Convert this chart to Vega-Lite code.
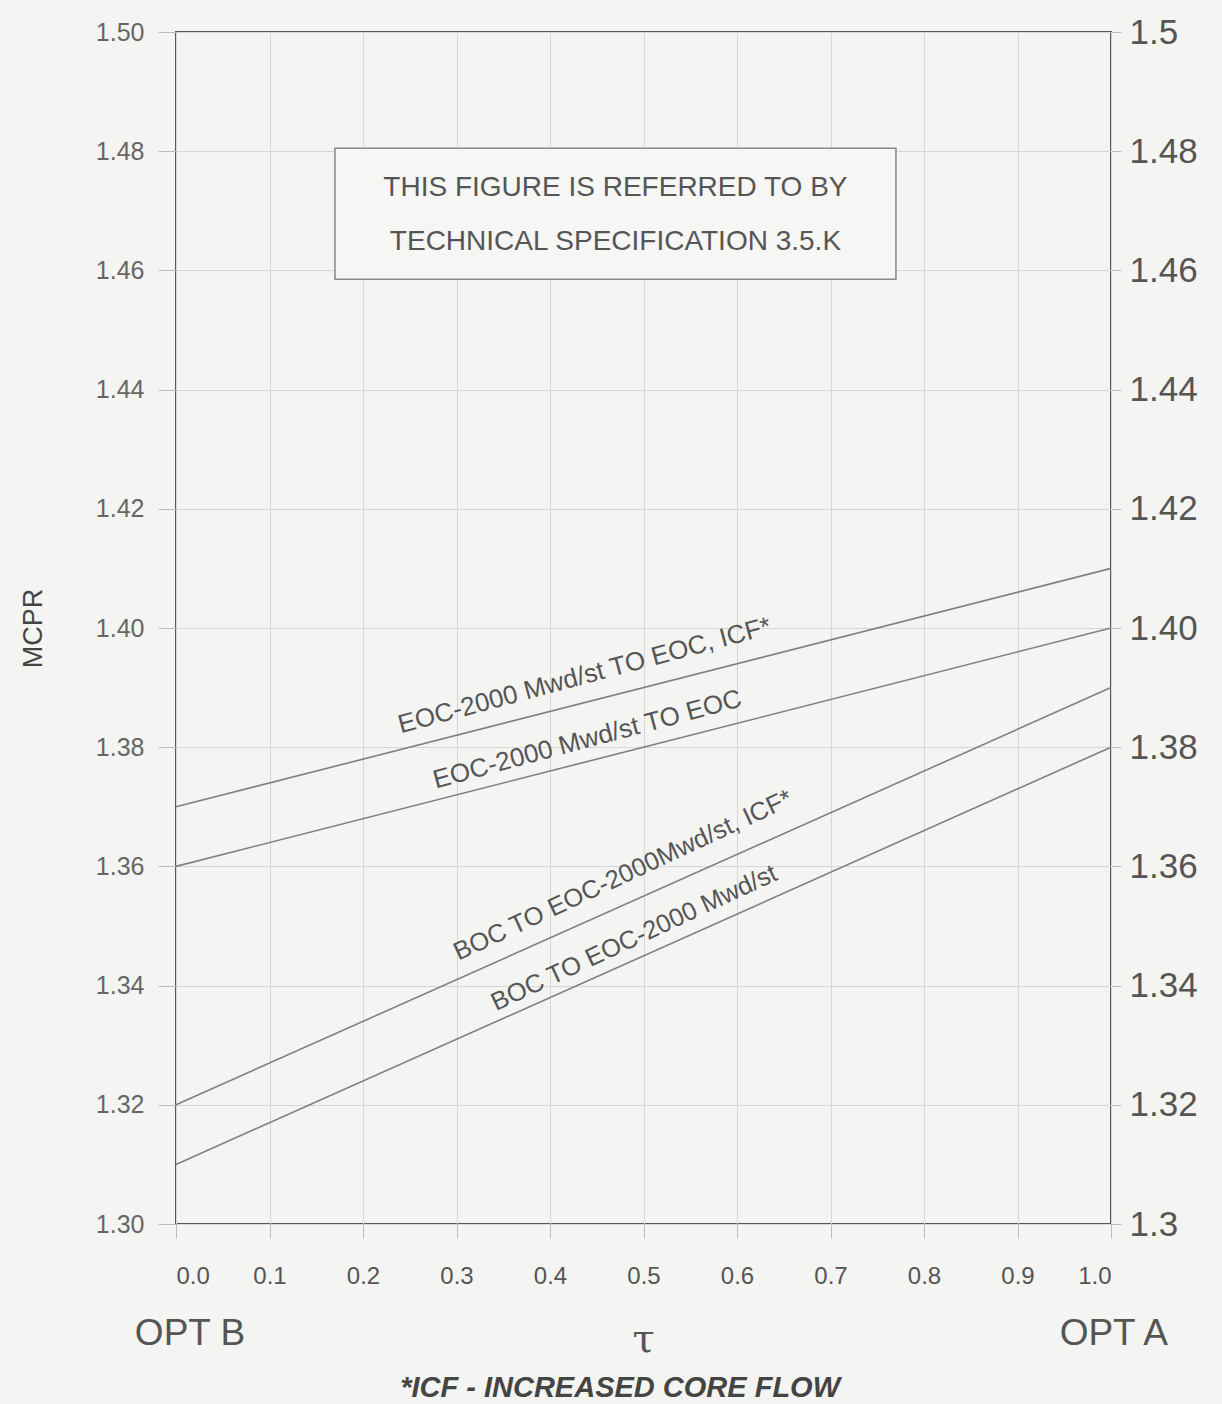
{
  "$schema": "https://vega.github.io/schema/vega-lite/v6.json",
  "width": 935,
  "height": 1192,
  "autosize": "none",
  "padding": {"left": 176, "top": 32, "right": 111, "bottom": 180},
  "background": "#f4f4f2",
  "config": {
    "view": {"stroke": "#555555", "strokeWidth": 2},
    "font": "Liberation Sans",
    "text": {"font": "Liberation Sans", "color": "#444444"}
  },
  "datasets": {
    "lines": [
      {"curve": "EOC ICF", "tau": 0.0, "mcpr": 1.37},
      {"curve": "EOC ICF", "tau": 1.0, "mcpr": 1.41},
      {"curve": "EOC", "tau": 0.0, "mcpr": 1.36},
      {"curve": "EOC", "tau": 1.0, "mcpr": 1.40},
      {"curve": "BOC ICF", "tau": 0.0, "mcpr": 1.32},
      {"curve": "BOC ICF", "tau": 1.0, "mcpr": 1.39},
      {"curve": "BOC", "tau": 0.0, "mcpr": 1.31},
      {"curve": "BOC", "tau": 1.0, "mcpr": 1.38}
    ],
    "shallow": [
      {"label": "EOC-2000 Mwd/st TO EOC, ICF*", "tau": 0.437, "mcpr": 1.392},
      {"label": "EOC-2000 Mwd/st TO EOC", "tau": 0.44, "mcpr": 1.3813}
    ],
    "steep": [
      {"label": "BOC TO EOC-2000Mwd/st, ICF*", "tau": 0.478, "mcpr": 1.3585},
      {"label": "BOC TO EOC-2000 Mwd/st", "tau": 0.49, "mcpr": 1.348}
    ],
    "box": [{"x1": 0.17, "x2": 0.77, "y1": 1.4585, "y2": 1.4805}],
    "boxtext": [
      {"label": "THIS FIGURE IS REFERRED TO BY", "tau": 0.47, "mcpr": 1.4738},
      {"label": "TECHNICAL SPECIFICATION 3.5.K", "tau": 0.47, "mcpr": 1.4648}
    ],
    "opt": [
      {"label": "OPT B", "tau": 0.015, "mcpr": 1.2815},
      {"label": "OPT A", "tau": 1.003, "mcpr": 1.2815}
    ],
    "tauLabel": [{"label": "τ", "tau": 0.5, "mcpr": 1.2805}],
    "foot": [{"label": "*ICF - INCREASED CORE FLOW", "tau": 0.475, "mcpr": 1.2725}]
  },
  "layer": [
    {
      "data": {"name": "lines"},
      "mark": {"type": "line", "color": "#808080", "strokeWidth": 1.6},
      "encoding": {
        "x": {
          "field": "tau", "type": "quantitative",
          "scale": {"domain": [0, 1], "nice": false},
          "axis": {
            "values": [0, 0.1, 0.2, 0.3, 0.4, 0.5, 0.6, 0.7, 0.8, 0.9, 1.0],
            "format": ".1f", "title": null,
            "labelFontSize": 24, "labelColor": "#555555", "labelPadding": 26,
            "tickSize": 14, "tickColor": "#bbbbbb",
            "domain": false,
            "grid": true, "gridColor": "#d6d6d6", "gridWidth": 1
          }
        },
        "y": {
          "field": "mcpr", "type": "quantitative",
          "scale": {"domain": [1.3, 1.5], "nice": false, "zero": false},
          "axis": {
            "values": [1.3, 1.32, 1.34, 1.36, 1.38, 1.4, 1.42, 1.44, 1.46, 1.48, 1.5],
            "format": ".2f", "title": "MCPR",
            "titleFontSize": 27, "titleFontWeight": "normal", "titleColor": "#444444", "titlePadding": 48,
            "labelFontSize": 25, "labelColor": "#666666", "labelPadding": 14,
            "tickSize": 18, "tickColor": "#bbbbbb",
            "domain": false,
            "grid": true, "gridColor": "#d6d6d6", "gridWidth": 1
          }
        },
        "detail": {"field": "curve"}
      }
    },
    {
      "data": {"name": "lines"},
      "mark": {"type": "line", "opacity": 0},
      "encoding": {
        "x": {"field": "tau", "type": "quantitative"},
        "y": {
          "field": "mcpr", "type": "quantitative",
          "axis": {
            "orient": "right",
            "values": [1.3, 1.32, 1.34, 1.36, 1.38, 1.4, 1.42, 1.44, 1.46, 1.48, 1.5],
            "labelExpr": "datum.value > 1.499 ? '1.5' : (datum.value < 1.301 ? '1.3' : format(datum.value, '.2f'))",
            "title": null,
            "labelFontSize": 35, "labelColor": "#555555", "labelPadding": 8,
            "tickSize": 10, "tickColor": "#bbbbbb",
            "domain": false, "grid": false
          }
        },
        "detail": {"field": "curve"}
      }
    },
    {
      "data": {"name": "box"},
      "mark": {"type": "rect", "fill": "#f6f6f4", "stroke": "#888888", "strokeWidth": 1.5},
      "encoding": {
        "x": {"field": "x1", "type": "quantitative"},
        "x2": {"field": "x2"},
        "y": {"field": "y1", "type": "quantitative", "axis": null},
        "y2": {"field": "y2"}
      }
    },
    {
      "data": {"name": "boxtext"},
      "mark": {"type": "text", "fontSize": 28, "color": "#555555"},
      "encoding": {
        "x": {"field": "tau", "type": "quantitative"},
        "y": {"field": "mcpr", "type": "quantitative", "axis": null},
        "text": {"field": "label"}
      }
    },
    {
      "data": {"name": "shallow"},
      "mark": {"type": "text", "fontSize": 26, "angle": -15, "color": "#555555"},
      "encoding": {
        "x": {"field": "tau", "type": "quantitative"},
        "y": {"field": "mcpr", "type": "quantitative", "axis": null},
        "text": {"field": "label"}
      }
    },
    {
      "data": {"name": "steep"},
      "mark": {"type": "text", "fontSize": 25.5, "angle": -25, "color": "#555555"},
      "encoding": {
        "x": {"field": "tau", "type": "quantitative"},
        "y": {"field": "mcpr", "type": "quantitative", "axis": null},
        "text": {"field": "label"}
      }
    },
    {
      "data": {"name": "opt"},
      "mark": {"type": "text", "fontSize": 37, "color": "#555555", "clip": false},
      "encoding": {
        "x": {"field": "tau", "type": "quantitative"},
        "y": {"field": "mcpr", "type": "quantitative", "axis": null},
        "text": {"field": "label"}
      }
    },
    {
      "data": {"name": "tauLabel"},
      "mark": {"type": "text", "fontSize": 40, "font": "DejaVu Serif", "color": "#555555", "clip": false},
      "encoding": {
        "x": {"field": "tau", "type": "quantitative"},
        "y": {"field": "mcpr", "type": "quantitative", "axis": null},
        "text": {"field": "label"}
      }
    },
    {
      "data": {"name": "foot"},
      "mark": {"type": "text", "fontSize": 29, "fontStyle": "italic", "fontWeight": "bold", "color": "#444444", "clip": false},
      "encoding": {
        "x": {"field": "tau", "type": "quantitative"},
        "y": {"field": "mcpr", "type": "quantitative", "axis": null},
        "text": {"field": "label"}
      }
    }
  ],
  "resolve": {"axis": {"y": "independent"}}
}
